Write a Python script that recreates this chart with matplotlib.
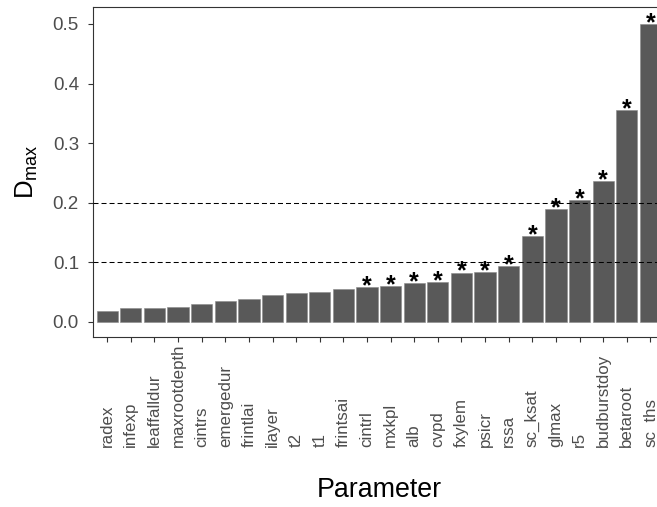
import numpy as np
import matplotlib
matplotlib.use('Agg')
import matplotlib.pyplot as plt

plt.rcParams['font.family'] = ['Liberation Sans', 'DejaVu Sans']
plt.rcParams['mathtext.fontset'] = 'custom'
plt.rcParams['mathtext.rm'] = 'Liberation Sans'

# Dmax per parameter, sorted ascending
params = ['radex', 'infexp', 'leaffalldur', 'maxrootdepth', 'cintrs',
          'emergedur', 'frintlai', 'ilayer', 't2', 't1', 'frintsai',
          'cintrl', 'mxkpl', 'alb', 'cvpd', 'fxylem', 'psicr', 'rssa',
          'sc_ksat', 'glmax', 'r5', 'budburstdoy', 'betaroot', 'sc_ths']
dmax = [0.019, 0.023, 0.024, 0.025, 0.031, 0.036, 0.038, 0.046, 0.048,
        0.050, 0.055, 0.058, 0.061, 0.065, 0.067, 0.083, 0.084, 0.094,
        0.145, 0.190, 0.204, 0.236, 0.355, 0.500]
significant = [False] * 11 + [True] * 13
thresholds = [0.1, 0.2]

W, H = 657, 507
fig = plt.figure(figsize=(W / 100, H / 100), dpi=100)
# panel runs a little past the right edge of the figure
left, right, top, bottom = 93, 664.6, 7, 336.7
ax = fig.add_axes([left / W, 1 - bottom / H, (right - left) / W, (bottom - top) / H])

x = np.arange(len(params))
ax.bar(x, dmax, width=0.9, color='#595959', edgecolor='#8a8a8a',
       linewidth=0.4, zorder=2)

for xi, v, s in zip(x, dmax, significant):
    if s:
        ax.text(xi, v - 0.0105, '*', ha='center', va='baseline',
                fontsize=18, fontweight='bold', color='black', zorder=4)

for t in thresholds:
    ax.axhline(t, color='black', linewidth=0.75, dashes=(4.8, 2.9), zorder=3)

ax.set_xlim(-0.6, len(params) - 0.4)
ax.set_ylim(-0.0247, 0.5285)
ax.set_yticks([0.0, 0.1, 0.2, 0.3, 0.4, 0.5])
ax.set_yticklabels(['0.0', '0.1', '0.2', '0.3', '0.4', '0.5'])
ax.set_xticks(x)
ax.set_xticklabels(params, rotation=90, ha='center', va='bottom')

for sp in ax.spines.values():
    sp.set_color('#333333')
    sp.set_linewidth(0.8)

ax.tick_params(axis='both', colors='#333333', length=3.6, width=0.8)
ax.tick_params(axis='y', labelsize=13.5, labelcolor='#4d4d4d', pad=6.5)
ax.tick_params(axis='x', labelsize=12.2, labelcolor='#4d4d4d', pad=76)

ax.set_ylabel(r'$\mathrm{D_{max}}$', fontsize=18.5, color='black', labelpad=9)
ax.set_xlabel('Parameter', fontsize=19.3, color='black')
ax.xaxis.set_label_coords((379.5 - left) / (right - left), -(497 - bottom) / (bottom - top))
ax.xaxis.label.set_va('baseline')

fig.savefig('out.png', dpi=100)
